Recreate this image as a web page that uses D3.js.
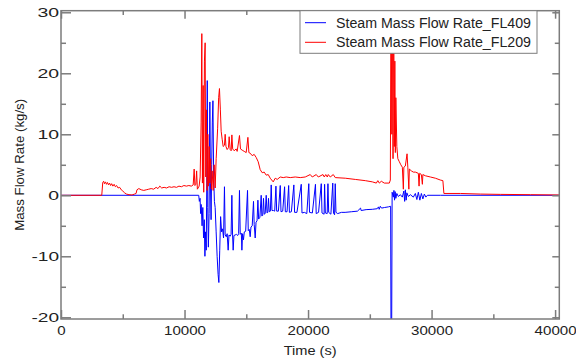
<!DOCTYPE html>
<html><head><meta charset="utf-8">
<script src="https://cdn.jsdelivr.net/npm/d3@7"></script>
<style>
body{margin:0;background:#fff;}
svg{display:block;}
</style></head>
<body>
<svg id="chart" width="576" height="360"></svg>
<script>
// ---- data ----
const seriesNames = ["Steam Mass Flow Rate_FL409", "Steam Mass Flow Rate_FL209"];
const xTickValues = [0, 10000, 20000, 30000, 40000];
const xTickLabels = ["0", "10000", "20000", "30000", "40000"];
const yTickValues = [-20, -10, 0, 10, 20, 30];
const yTickLabels = ["-20", "-10", "0", "10", "20", "30"];

// FL409 (blue)
const timeFL409 = [0,11150,11200,11260,11300,11350,11420,11480,11540,11600,11650,11700,11760,11800,11840,11880,11930,11990,12050,12100,12150,12200,12250,12300,12360,12420,12480,12560,12640,12720,12780,12850,12920,13000,13080,13160,13233,13290,13380,13450,13533,13600,13700,13770,13833,13890,13938,14000,14100,14200,14300,14380,14449,14510,14600,14643,14700,14773,14840,14950,15100,15160,15240,15316,15380,15480,15584,15640,15721,15790,15870,15940,16000,16100,16207,16260,16330,16394,16450,16530,16613,16680,16740,16799,16860,16950,17018,17080,17200,17300,17400,17460,17600,17750,17810,17950,18100,18160,18300,18430,18490,18650,18850,18910,19100,19450,19510,19700,19900,20060,20120,20350,20600,20660,20850,21070,21130,21300,21340,21400,21550,21610,21670,21850,22000,22060,22150,22200,22260,22400,22700,23000,23500,24000,24250,24300,24700,25200,25600,25700,25760,25850,25950,26200,26500,26685,26718,26766,26807,26904,26953,27002,27050,27107,27188,27310,27472,27634,27755,27820,27877,27941,27998,28120,28282,28525,28687,28809,28930,29052,29173,29295,29416,29538,29660,30713,40340];
const flowFL409 = [0,0,-1,-0.5,-3,-1.5,-5,-2,-7,-4,-10,-6,-9,2,18.8,-2,-8.5,-3,15.3,2,-4,5,12,15.5,3,-1,-2,-6,-10,-13,-14.3,-9,-3.5,-6,-5.5,-7,1.4,-6.5,-6.8,-6.3,-9,-6.5,-6.7,-6.4,0,-6.5,-9,-6.6,-6.5,-6.4,-6.6,-6.3,0.8,-6.4,-6.2,-9,-6.3,-7.3,-6.0,-5.9,0.8,-5.8,-5.6,-6.8,-5.2,-5.0,-1.0,-4.8,-7.0,-4.4,-4.2,-0.8,-3.9,-3.6,0,-3.4,-3.3,-0.5,-3.1,-3.0,0,-2.9,-2.8,-0.5,-2.7,-2.6,1.7,-2.5,-2.5,-2.6,1.5,-2.6,-2.6,1.6,-2.7,-2.6,1.4,-2.7,-2.7,1.6,-2.8,-2.7,1.7,-2.8,-2.8,1.8,-2.9,-2.8,-3.0,1.9,-2.8,-2.9,1.8,-3.0,-2.8,1.9,-2.9,-3.1,1.8,-2.9,-3.0,1.9,-2.8,-3.1,2.0,-2.9,-3.2,1.9,-2.8,-3.0,-2.8,-2.8,-2.7,-2.6,-2.1,-2.5,-2.35,-2.3,-2.2,-1.9,-2.3,-1.8,-2.1,-2.0,-1.9,-1.8,-25,-25,0.5,-0.3,0.8,-0.8,0.6,-0.5,0.3,-0.2,0.1,-0.3,0.7,-1.0,0.9,-0.8,0.4,-0.2,0.1,-0.3,0.3,-0.7,0.5,-0.8,0.3,-0.6,0.2,-0.3,0,0,0];

// FL209 (red)
const timeFL209 = [0,3300,3380,3450,3520,3600,3680,3760,3850,3930,4020,4100,4200,4300,4400,4500,4620,4750,4880,5000,5150,5300,5500,5750,5950,6080,6150,6300,6500,6700,6900,7100,7300,7500,7700,7850,8000,8150,8350,8550,8750,8950,9150,9350,9550,9750,9950,10150,10350,10550,10700,10780,10840,10920,10980,11040,11183,11264,11345,11400,11450,11507,11555,11612,11669,11717,11774,11831,11888,11936,11993,12050,12115,12172,12237,12318,12399,12480,12561,12682,12763,12828,12901,12966,13047,13128,13233,13290,13355,13452,13557,13614,13695,13776,13833,13898,14019,14181,14262,14449,14530,14667,14830,14992,15130,15210,15316,15478,15640,15802,15964,16126,16288,16451,16613,16775,16937,17180,17342,17504,17747,17990,18233,18558,18963,19368,19773,20178,20340,20664,20827,21208,21313,21434,21556,21637,21799,22042,22204,23015,23825,24635,25203,25527,25648,25770,25932,26175,26580,26661,26718,26783,26823,26880,26928,26985,27026,27066,27107,27188,27269,27391,27512,27634,27715,27755,27877,28015,28080,28161,28201,28363,28525,28687,28930,28987,29036,29173,29254,29295,29497,29903,30308,30713,30916,30997,32334,33954,35575,38006,40340];
const flowFL209 = [0,0,2.1,2.3,1.9,2.2,1.8,2.1,1.7,2.0,1.6,1.9,1.5,1.8,1.4,1.6,1.2,1.3,0.9,0.7,0.4,0.2,0.1,0.05,0.2,0.3,0.9,1.1,0.9,0.8,0.9,1.0,1.1,1.0,1.3,1.1,1.5,1.2,1.3,1.2,1.4,1.3,1.4,1.3,1.5,1.4,1.6,1.5,1.6,1.5,1.7,4.3,1.6,1.8,4.0,1.0,1.5,3.0,12,26.5,2,18,0.5,22,25,3,14,0.8,10,1.5,8,2.0,6,1.0,4,0.8,5,1.2,6,11,16,17.5,14,10.5,9.2,8.0,8.2,10.0,8.0,7.5,7.8,9.6,7.5,7.3,9.9,7.6,7.3,7.6,7.2,9.8,7.6,7.4,7.2,7.0,9.5,7.0,6.9,6.5,6.7,6.2,5.5,4.2,3.7,3.8,3.3,3.4,2.8,2.2,2.8,2.6,3.0,2.9,3.0,2.9,3.0,2.9,3.0,3.4,3.0,3.4,3.0,3.4,3.0,3.4,3.0,3.4,3.0,3.4,2.9,2.8,2.6,2.4,2.2,2.0,2.4,2.0,2.3,2.0,2.0,2.5,35,10,35,6,35,8,22,7,16,8,6,5.5,5.0,4.6,1.0,4.6,4.8,6.8,4.5,1.0,4.3,4.0,3.8,3.8,3.6,1.5,3.6,3.4,1.8,3.4,3.2,3.0,2.8,2.5,2.4,0.3,0.3,0.2,0.15,0.1,0.05];

// ---- chart ----
const svg = d3.select("#chart");
const pL = 61, pR = 559.3, pT = 10.7, pB = 319;
const x = d3.scaleLinear().domain([0, 40340]).range([pL, pR]);
const y = d3.scaleLinear().domain([-20.28, 30.26]).range([pB, pT]);
const frameColor = "#7c7c7c";
const textColor = "#222";
const fontFam = "Liberation Sans, Arial, sans-serif";

svg.append("rect").attr("width", 576).attr("height", 360).attr("fill", "#fff");

svg.append("defs").append("clipPath").attr("id", "clip")
  .append("rect").attr("x", pL).attr("y", pT).attr("width", pR - pL).attr("height", pB - pT);

const plot = svg.append("g").attr("clip-path", "url(#clip)");
const line = d3.line().x(d => x(d[0])).y(d => y(d[1]));
const nB = Math.min(timeFL409.length, flowFL409.length);
const nR = Math.min(timeFL209.length, flowFL209.length);
const blueData = timeFL409.slice(0, nB).map((t, i) => [t, flowFL409[i]]);
const redData = timeFL209.slice(0, nR).map((t, i) => [t, flowFL209[i]]);
plot.append("path").datum(blueData).attr("d", line)
  .attr("fill", "none").attr("stroke", "#0000ff").attr("stroke-width", 1).attr("stroke-linejoin", "round");
plot.append("path").datum(redData).attr("d", line)
  .attr("fill", "none").attr("stroke", "#ff0000").attr("stroke-width", 1).attr("stroke-linejoin", "round");

// axes (ticks inward)
function styleAxis(g) {
  g.select(".domain").remove();
  g.selectAll(".tick line").attr("stroke", frameColor).attr("stroke-width", 1.5);
}
const yMinor = [-15, -5, 5, 15, 25];
const xMinor = [5000, 15000, 25000, 35000];

// left
const gL = svg.append("g").attr("transform", `translate(${pL},0)`)
  .call(d3.axisLeft(y).tickValues(yTickValues).tickSize(-10).tickPadding(2)
    .tickFormat((d, i) => yTickLabels[i]));
styleAxis(gL);
gL.selectAll(".tick text")
  .attr("fill", textColor).attr("font-family", fontFam)
  .attr("font-size", 12.5).attr("dy", "0.36em")
  .attr("textLength", d => String(Math.abs(d)).length * 10.8 + (d < 0 ? 6 : 0))
  .attr("lengthAdjust", "spacingAndGlyphs");
svg.append("g").attr("transform", `translate(${pL},0)`)
  .call(d3.axisLeft(y).tickValues(yMinor).tickSize(-5).tickFormat(""))
  .call(styleAxis);
// right
svg.append("g").attr("transform", `translate(${pR},0)`)
  .call(d3.axisRight(y).tickValues(yTickValues).tickSize(-7).tickFormat(""))
  .call(styleAxis);
svg.append("g").attr("transform", `translate(${pR},0)`)
  .call(d3.axisRight(y).tickValues(yMinor).tickSize(-4.5).tickFormat(""))
  .call(styleAxis);
// bottom
const gB = svg.append("g").attr("transform", `translate(0,${pB})`)
  .call(d3.axisBottom(x).tickValues(xTickValues).tickSize(-9).tickPadding(7)
    .tickFormat((d, i) => xTickLabels[i]));
styleAxis(gB);
gB.selectAll(".tick text")
  .attr("fill", textColor).attr("font-family", fontFam)
  .attr("font-size", 12).attr("dy", "0.71em")
  .attr("textLength", d => String(d).length * 8.4)
  .attr("lengthAdjust", "spacingAndGlyphs");
svg.append("g").attr("transform", `translate(0,${pB})`)
  .call(d3.axisBottom(x).tickValues(xMinor).tickSize(-4.7).tickFormat(""))
  .call(styleAxis);
// top
svg.append("g").attr("transform", `translate(0,${pT})`)
  .call(d3.axisTop(x).tickValues(xTickValues).tickSize(-8).tickFormat(""))
  .call(styleAxis);
svg.append("g").attr("transform", `translate(0,${pT})`)
  .call(d3.axisTop(x).tickValues(xMinor).tickSize(-4.3).tickFormat(""))
  .call(styleAxis);

// frame
svg.append("rect").attr("x", pL).attr("y", pT).attr("width", pR - pL).attr("height", pB - pT)
  .attr("fill", "none").attr("stroke", frameColor).attr("stroke-width", 1.5);

// axis titles
svg.append("text").attr("x", (pL + pR) / 2).attr("y", 355)
  .attr("text-anchor", "middle").attr("fill", textColor)
  .attr("font-family", fontFam).attr("font-size", 12.5)
  .attr("textLength", 53).attr("lengthAdjust", "spacingAndGlyphs")
  .text("Time (s)");
svg.append("text").attr("transform", `translate(24,${(pT + pB) / 2}) rotate(-90)`)
  .attr("text-anchor", "middle").attr("fill", textColor)
  .attr("font-family", fontFam).attr("font-size", 12.5)
  .attr("textLength", 132).attr("lengthAdjust", "spacingAndGlyphs")
  .text("Mass Flow Rate (kg/s)");

// legend
const legend = svg.append("g");
legend.append("rect").attr("x", 300).attr("y", pT).attr("width", 237).attr("height", 42.6)
  .attr("fill", "#fff").attr("stroke", frameColor).attr("stroke-width", 1);
const legColors = ["#0000ff", "#ff0000"];
seriesNames.forEach((name, i) => {
  const ly = 22.7 + i * 19.6;
  legend.append("line").attr("x1", 305).attr("x2", 326).attr("y1", ly).attr("y2", ly)
    .attr("stroke", legColors[i]).attr("stroke-width", 1);
  legend.append("text").attr("x", 336).attr("y", ly + 5)
    .attr("fill", textColor).attr("font-family", fontFam)
    .attr("font-size", 14).attr("textLength", 195).attr("lengthAdjust", "spacingAndGlyphs")
    .text(name);
});
</script>
</body></html>
